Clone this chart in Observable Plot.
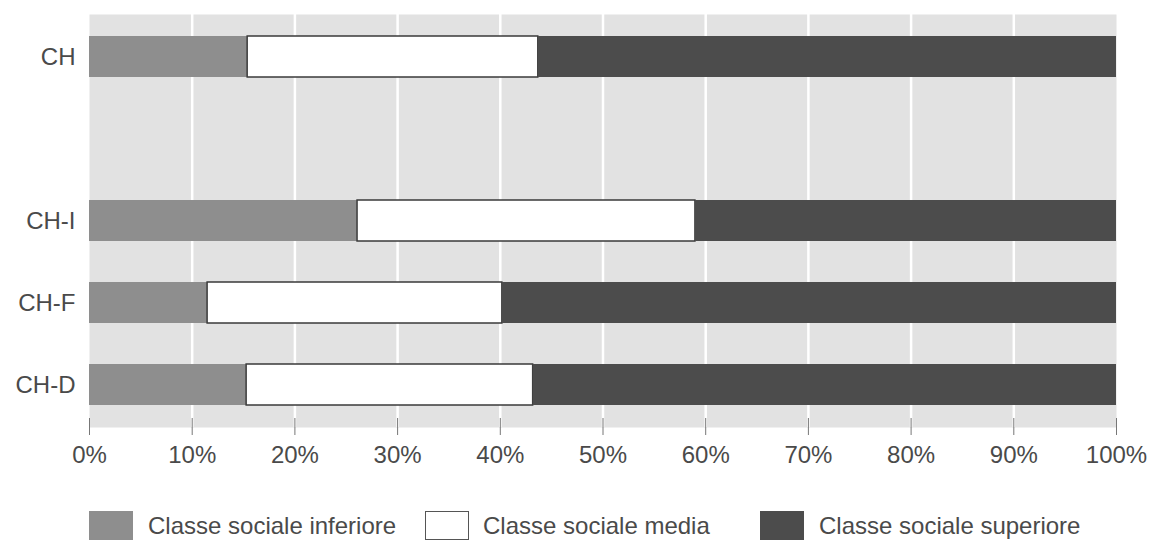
<!DOCTYPE html>
<html>
<head>
<meta charset="utf-8">
<script src="https://cdn.jsdelivr.net/npm/d3@7"></script>
<script src="https://cdn.jsdelivr.net/npm/@observablehq/plot@0.6"></script>
<style>
  html, body { margin: 0; padding: 0; background: #fff; }
  body { width: 1149px; height: 540px; overflow: hidden; font-family: "Liberation Sans", Arial, sans-serif; color: #4a4a4a; }
  #chart svg { display: block; }
  #legend { position: relative; height: 65px; margin-top: 36px; }
  .item { position: absolute; top: 0; display: flex; align-items: center; height: 29px; font-size: 24px; }
  .sw { width: 44px; height: 29px; box-sizing: border-box; margin-right: 15px; }
</style>
</head>
<body>
<div id="chart"></div>
<div id="legend"></div>
<script>
// ---- data ----
const categories = ["CH", "CH-I", "CH-F", "CH-D"];
const classes = ["Classe sociale inferiore", "Classe sociale media", "Classe sociale superiore"];
const inferiore = [15.4, 26.1, 11.5, 15.3];
const media = [28.3, 32.9, 28.7, 27.9];
const superiore = [56.3, 41.0, 59.8, 56.8];
const xTicks = [0, 10, 20, 30, 40, 50, 60, 70, 80, 90, 100];

// ---- styles ----
const colors = ["#8e8e8e", "#ffffff", "#4c4c4c"];
const textColor = "#4a4a4a";
const yDomain = ["CH", " ", "CH-I", "CH-F", "CH-D"];

const series = [inferiore, media, superiore];
const rows = [];
categories.forEach((cat, i) => {
  series.forEach((vals, k) => rows.push({cat, classe: classes[k], value: vals[i]}));
});

const chart = Plot.plot({
  width: 1149,
  height: 475,
  marginLeft: 89,
  marginRight: 33,
  marginTop: 14,
  marginBottom: 48,
  style: {fontFamily: "'Liberation Sans', Arial, sans-serif", fontSize: "24px", color: textColor, background: "white"},
  x: {domain: [0, 100], ticks: xTicks, label: null},
  y: {domain: yDomain, paddingInner: 0.5, paddingOuter: 0.25, label: null},
  color: {domain: classes, range: colors},
  marks: [
    Plot.frame({fill: "#e2e2e2", stroke: "none"}),
    Plot.gridX(xTicks.slice(1, -1), {stroke: "white", strokeOpacity: 1, strokeWidth: 2.5}),
    Plot.barX(rows, Plot.stackX({
      x: "value", y: "cat", fill: "classe",
      stroke: "#3a3a3a",
      strokeOpacity: d => d.classe === classes[1] ? 1 : 0,
      strokeWidth: 1.5
    })),
    Plot.axisX({ticks: xTicks, tickSize: 17, dy: -9, tickFormat: () => "", label: null, stroke: "#777", strokeWidth: 1}),
    Plot.axisX({ticks: xTicks, tickSize: 0, tickPadding: 18, tickFormat: d => d + "%", label: null, fill: textColor}),
    Plot.axisY({ticks: categories, tickSize: 0, tickPadding: 14, label: null, fill: textColor})
  ]
});
document.getElementById("chart").append(chart);

// ---- legend ----
const legendLeft = [89, 425, 760];
const legend = document.getElementById("legend");
classes.forEach((c, k) => {
  const item = document.createElement("div");
  item.className = "item";
  item.style.left = legendLeft[k] + "px";
  const sw = document.createElement("div");
  sw.className = "sw";
  sw.style.background = colors[k];
  if (k === 1) sw.style.border = "1.5px solid #555";
  if (k === 1) sw.style.marginRight = "14px";
  const t = document.createElement("span");
  t.textContent = c;
  item.append(sw, t);
  legend.append(item);
});
</script>
</body>
</html>
